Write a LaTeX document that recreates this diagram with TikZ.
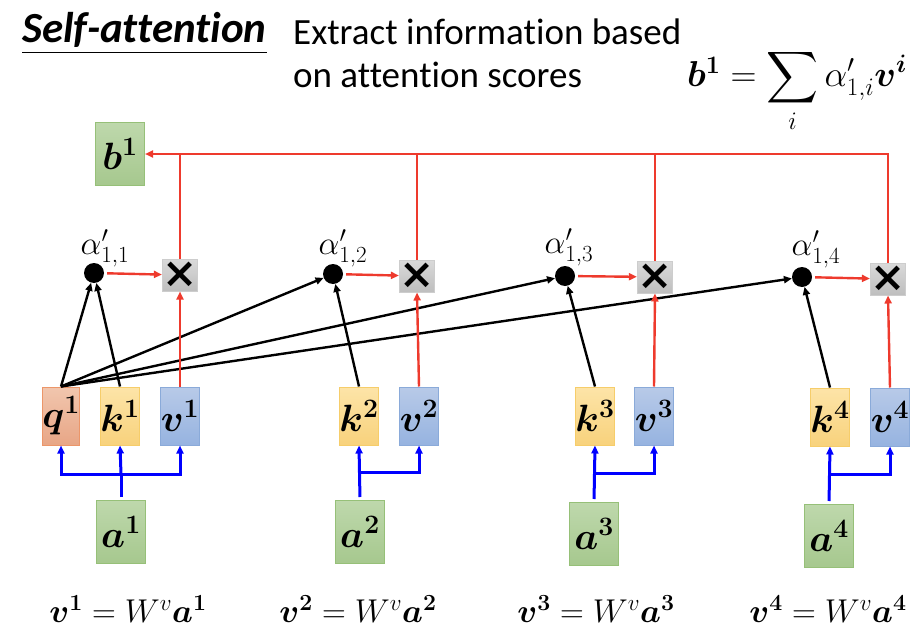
\RequirePackage{fix-cm}
\documentclass[tikz,border=0pt]{standalone}
\usepackage{amsmath}
\DeclareFontShape{OMX}{cmex}{m}{n}{<->cmex10}{}
\usepackage{bm}
\usepackage{fontspec}
\setmainfont{Carlito}[Ligatures=NoCommon]
\newfontfamily\xfont{DejaVu Sans}
\usetikzlibrary{arrows.meta}
\definecolor{redl}{RGB}{238,58,45}
\definecolor{blul}{RGB}{0,0,255}
\definecolor{gT}{RGB}{190,216,172}
\definecolor{gB}{RGB}{166,200,142}
\definecolor{gD}{RGB}{150,192,120}
\definecolor{oT}{RGB}{241,198,174}
\definecolor{oB}{RGB}{232,166,134}
\definecolor{oD}{RGB}{236,150,105}
\definecolor{yT}{RGB}{253,228,168}
\definecolor{yB}{RGB}{248,210,124}
\definecolor{yD}{RGB}{246,205,106}
\definecolor{bT}{RGB}{184,202,232}
\definecolor{bB}{RGB}{150,179,224}
\definecolor{bD}{RGB}{138,170,217}
\definecolor{xT}{RGB}{218,218,218}
\definecolor{xB}{RGB}{190,190,190}
\definecolor{xD}{RGB}{205,205,205}
\begin{document}
\begin{tikzpicture}[x=1pt,y=-1pt,
  mathf/.style={font=\fontsize{38}{44}\selectfont},
  gbox/.style={draw=gD, line width=1pt, top color=gT, bottom color=gB, minimum width=49pt, minimum height=63pt, inner sep=0pt, mathf},
  vecbox/.style={line width=1pt, minimum width=31pt, minimum height=58pt, inner sep=0pt, mathf},
  qbox/.style={vecbox, draw=oD, top color=oT, bottom color=oB},
  kbox/.style={vecbox, draw=yD, top color=yT, bottom color=yB},
  vbox/.style={vecbox, draw=bD, top color=bT, bottom color=bB},
  mbox/.style={draw=xD, line width=1pt, top color=xT, bottom color=xB, minimum width=32pt, minimum height=32pt, inner sep=0pt, font=\fontsize{42}{44}\xfont\bfseries},
  dotn/.style={circle, fill=black, minimum size=20pt, inner sep=0pt},
  alab/.style={font=\fontsize{33}{38}\selectfont, inner sep=0pt},
  tipr/.style={-{Triangle[length=8pt,width=7pt]}},
  redline/.style={draw=redl, line width=2.4pt},
  redarr/.style={redline, tipr},
  blkarr/.style={draw=black, line width=2.4pt, tipr},
  blueline/.style={draw=blul, line width=3pt},
  bluarr/.style={blueline, tipr},
  eqn/.style={font=\fontsize{33}{38}\selectfont, anchor=base, inner sep=0pt}
]
\useasboundingbox (0,0) rectangle (924,642);

% title and description
\node[anchor=base west, inner sep=0pt, font=\fontsize{43}{50}\selectfont\bfseries\itshape] (title) at (22,43) {Self-attention};
\draw[line width=1pt] ([yshift=-9.5pt]title.base west) -- ([yshift=-9.5pt]title.base east);
\node[anchor=base west, inner sep=0pt, font=\fontsize{37}{43}\selectfont] (sub1) at (293,45) {Extract information based};
\node[anchor=base west, inner sep=0pt, font=\fontsize{37}{43}\selectfont] (sub2) at (293,88) {on attention scores};
\node[anchor=base west, inner sep=0pt, font=\fontsize{36}{42}\selectfont] (sumeq) at (687,87)
  {$\bm{b}^{\bm{1}} = \displaystyle\sum_{i} \alpha'_{1,i}\bm{v}^{\bm{i}}$};

% output
\node[gbox] (b1) at (120,154) {$\bm{b}^{\bm{1}}$};

% multiply boxes
\node[mbox] (m1) at (180,275) {×};
\node[mbox] (m2) at (417,276) {×};
\node[mbox] (m3) at (655,277) {×};
\node[mbox] (m4) at (888,279) {×};

% attention score dots
\node[dotn] (d1) at (94,273) {};
\node[dotn] (d2) at (333,274) {};
\node[dotn] (d3) at (565,276) {};
\node[dotn] (d4) at (802,277) {};
\node[alab] (l1) at (105,248) {$\alpha'_{1,1}$};
\node[alab] (l2) at (343,248) {$\alpha'_{1,2}$};
\node[alab] (l3) at (569,247) {$\alpha'_{1,3}$};
\node[alab] (l4) at (816,249) {$\alpha'_{1,4}$};

% q k v boxes
\node[qbox] (q1) at (61,416) {$\bm{q}^{\bm{1}}$};
\node[kbox] (k1) at (120,416) {$\bm{k}^{\bm{1}}$};
\node[vbox] (v1) at (180,416) {$\bm{v}^{\bm{1}}$};
\node[kbox] (k2) at (359,416) {$\bm{k}^{\bm{2}}$};
\node[vbox] (v2) at (419,416) {$\bm{v}^{\bm{2}}$};
\node[kbox] (k3) at (595,416) {$\bm{k}^{\bm{3}}$};
\node[vbox] (v3) at (654,416) {$\bm{v}^{\bm{3}}$};
\node[kbox] (k4) at (830,417) {$\bm{k}^{\bm{4}}$};
\node[vbox] (v4) at (890,417) {$\bm{v}^{\bm{4}}$};

% inputs
\node[gbox] (a1) at (121,532) {$\bm{a}^{\bm{1}}$};
\node[gbox] (a2) at (360,532) {$\bm{a}^{\bm{2}}$};
\node[gbox] (a3) at (594,534) {$\bm{a}^{\bm{3}}$};
\node[gbox] (a4) at (829,536) {$\bm{a}^{\bm{4}}$};

% bottom equations
\node[eqn] (e1) at (128,622) {$\bm{v}^{\bm{1}} = W^{v}\bm{a}^{\bm{1}}$};
\node[eqn] (e2) at (358,622) {$\bm{v}^{\bm{2}} = W^{v}\bm{a}^{\bm{2}}$};
\node[eqn] (e3) at (596,622) {$\bm{v}^{\bm{3}} = W^{v}\bm{a}^{\bm{3}}$};
\node[eqn] (e4) at (828,622) {$\bm{v}^{\bm{4}} = W^{v}\bm{a}^{\bm{4}}$};

% junction coordinates
\coordinate (j1) at (121,474);
\coordinate (j2) at (359,472);
\coordinate (j3) at (595,473);
\coordinate (j4) at (830,474);

% blue connectors
\draw[blueline, shorten <=3pt] (a1.north) -- (j1);
\draw[bluarr] (j1) -| (q1.south);
\draw[bluarr] (j1) -- (k1.south);
\draw[bluarr] (j1) -| (v1.south);
\draw[bluarr, shorten <=3pt] (a2.north) -- (k2.south);
\draw[bluarr] (j2) -| (v2.south);
\draw[bluarr, shorten <=3pt] (a3.north) -- (k3.south);
\draw[bluarr] (j3) -| (v3.south);
\draw[bluarr, shorten <=3pt] (a4.north) -- (k4.south);
\draw[bluarr] (j4) -| (v4.south);

% black arrows q,k -> dots
\draw[blkarr] (q1.north) -- (d1);
\draw[blkarr] (q1.north) -- (d2);
\draw[blkarr] (q1.north) -- (d3);
\draw[blkarr] (q1.north) -- (d4);
\draw[blkarr] (k1.north) -- (d1);
\draw[blkarr] (k2.north) -- (d2);
\draw[blkarr] (k3.north) -- (d3);
\draw[blkarr] (k4.north) -- (d4);

% red arrows
\draw[redarr] (v1.north) -- (m1.south);
\draw[redarr] (v2.north) -- (m2.south);
\draw[redarr] (v3.north) -- (m3.south);
\draw[redarr] (v4.north) -- (m4.south);
\draw[redarr, shorten <=3pt] (d1) -- (m1);
\draw[redarr, shorten <=3pt] (d2) -- (m2);
\draw[redarr, shorten <=3pt] (d3) -- (m3);
\draw[redarr, shorten <=3pt] (d4) -- (m4);
\draw[redarr] (m4.north) |- (b1.east);
\draw[redline] (m1.north) -- (m1.north |- b1.east);
\draw[redline] (m2.north) -- (m2.north |- b1.east);
\draw[redline] (m3.north) -- (m3.north |- b1.east);
\end{tikzpicture}
\end{document}
